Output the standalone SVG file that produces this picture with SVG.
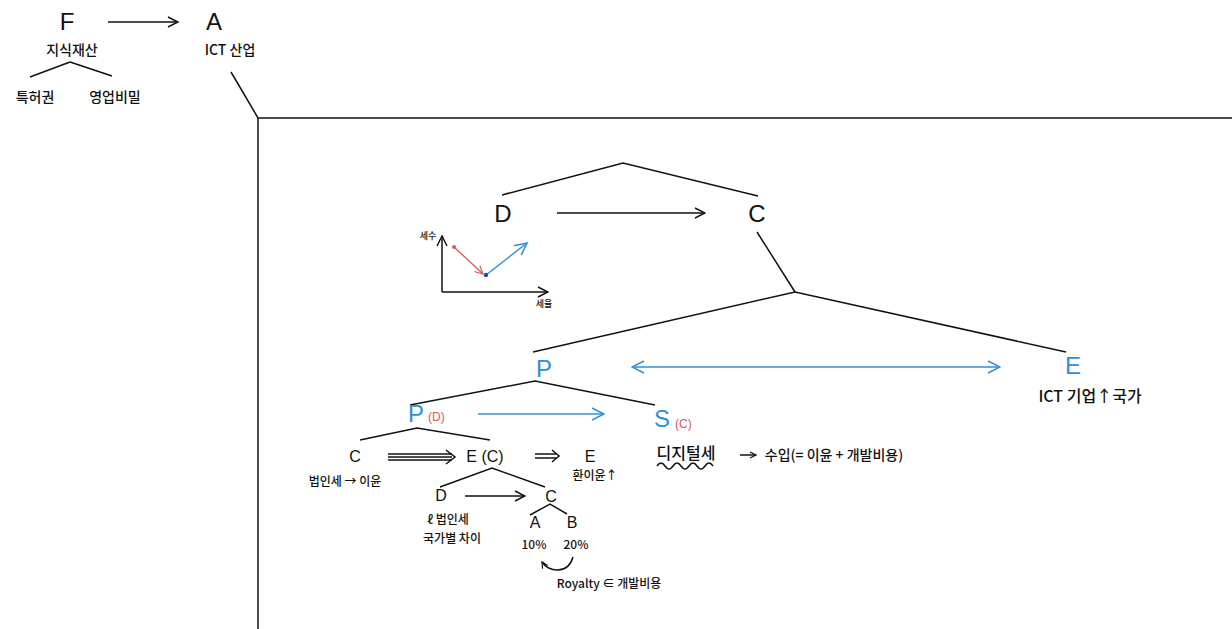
<svg xmlns="http://www.w3.org/2000/svg" width="1232" height="629" viewBox="0 0 1232 629">
<defs>
<marker id="chev" viewBox="0 0 12 12" refX="11" refY="6" markerWidth="12" markerHeight="12" markerUnits="userSpaceOnUse" orient="auto-start-reverse">
<path d="M1,1 L11,6 L1,11" fill="none" stroke="#111" stroke-width="1.4"/>
</marker>
<marker id="chevB" viewBox="0 0 14 14" refX="13" refY="7" markerWidth="14" markerHeight="14" markerUnits="userSpaceOnUse" orient="auto-start-reverse">
<path d="M1,1 L13,7 L1,13" fill="none" stroke="#2f8fd6" stroke-width="1.5"/>
</marker>
<marker id="chevR" viewBox="0 0 10 10" refX="9" refY="5" markerWidth="10" markerHeight="10" markerUnits="userSpaceOnUse" orient="auto">
<path d="M1,1 L9,5 L1,9" fill="none" stroke="#d9575a" stroke-width="1.2"/>
</marker>
<marker id="chevS" viewBox="0 0 8 8" refX="7" refY="4" markerWidth="8" markerHeight="8" markerUnits="userSpaceOnUse" orient="auto">
<path d="M1,1 L7,4 L1,7" fill="none" stroke="#111" stroke-width="1.2"/>
</marker>
</defs>
<style>
.t{font-family:"Noto Sans CJK KR","Liberation Sans",sans-serif;fill:#111;text-anchor:middle;font-weight:500}
.big{font-family:"Liberation Sans","Noto Sans CJK KR",sans-serif;font-size:24px;fill:#111;text-anchor:middle}
.mid{font-family:"Liberation Sans","Noto Sans CJK KR",sans-serif;font-size:16px;fill:#111;text-anchor:middle}
.blue{fill:#2f8fd6}
.red{fill:#d9575a;font-family:"Liberation Sans",sans-serif;text-anchor:start}
.k{font-size:14px}
.ln{stroke:#111;stroke-width:1.5;fill:none}
.lnb{stroke:#2f8fd6;stroke-width:1.5;fill:none}
</style>
<rect width="1232" height="629" fill="#fff"/>

<g id="connectors">
<line class="ln" x1="108" y1="22" x2="178" y2="22" marker-end="url(#chev)"/>
<line class="ln" x1="70" y1="62" x2="30" y2="77"/>
<line class="ln" x1="70" y1="62" x2="112" y2="76"/>
<line class="ln" x1="231" y1="72" x2="258" y2="118"/>
<path class="ln" d="M258,629 L258,118 L1232,118"/>
<path class="ln" d="M502,195 L623,163 L758,196"/>
<line class="ln" x1="557" y1="213" x2="705" y2="213" marker-end="url(#chev)"/>
<path class="ln" d="M757,232 L795,292"/>
<path class="ln" d="M533,352 L795,292 L1066,352"/>
<line class="lnb" x1="632" y1="367" x2="1000" y2="367" marker-start="url(#chevB)" marker-end="url(#chevB)"/>
<path class="ln" d="M410,405 L535,381 L655,405"/>
<line class="lnb" x1="478" y1="414" x2="604" y2="414" marker-end="url(#chevB)"/>
<path class="ln" d="M360,440 L417,428 L490,440"/>
<g class="ln">
<line x1="388" y1="454" x2="452" y2="454"/>
<line x1="388" y1="457" x2="452" y2="457"/>
<line x1="388" y1="460" x2="452" y2="460"/>
<path d="M446,450 L455,457 L446,464"/>
</g>
<g class="ln">
<line x1="535" y1="454" x2="556" y2="454"/>
<line x1="535" y1="458" x2="556" y2="458"/>
<path d="M552,450 L559,456 L552,462"/>
</g>
<path class="ln" d="M440,487 L492,468 L545,487"/>
<line class="ln" x1="465" y1="496" x2="525" y2="496" marker-end="url(#chev)"/>
<path class="ln" d="M530,515 L550,504 L567,514"/>
<path class="ln" d="M573,557 C568,575 548,572 542,562" marker-end="url(#chevS)"/>
<path class="ln" d="M657,466 q4,-6 8,0 t8,0 t8,0 t8,0 t8,0 t8,0 t8,0"/>
<line class="ln" x1="740" y1="455" x2="756" y2="455" marker-end="url(#chevS)"/>
</g>

<g id="graph">
<line class="ln" x1="442" y1="292" x2="442" y2="236" marker-end="url(#chev)"/>
<line class="ln" x1="442" y1="292" x2="548" y2="292" marker-end="url(#chev)"/>
<line x1="454" y1="247" x2="483" y2="274" stroke="#d9575a" stroke-width="1.3" marker-end="url(#chevR)"/>
<line x1="486" y1="275" x2="527" y2="243" stroke="#2f8fd6" stroke-width="1.4" marker-end="url(#chevB)"/>
<circle cx="454" cy="247" r="2" fill="#d9575a"/>
<circle cx="486" cy="275" r="2.2" fill="#1d4fb8"/>
<text class="t" x="428" y="239" font-size="9">세수</text>
<text class="t" x="544" y="307" font-size="9">세율</text>
</g>

<g id="node-F"><text class="big" x="67" y="30">F</text><text class="t k" x="72" y="55">지식재산</text></g>
<g id="node-patent"><text class="t k" x="35" y="102">특허권</text></g>
<g id="node-secret"><text class="t k" x="115" y="102">영업비밀</text></g>
<g id="node-A"><text class="big" x="214" y="30">A</text><text class="t k" x="230" y="55">ICT 산업</text></g>
<g id="node-D"><text class="big" x="503" y="222">D</text></g>
<g id="node-C"><text class="big" x="757" y="222">C</text></g>
<g id="node-P"><text class="big blue" x="544" y="377" font-size="32">P</text></g>
<g id="node-E"><text class="big blue" x="1073" y="374">E</text><text class="t" x="1090" y="402" font-size="16">ICT 기업↑국가</text></g>
<g id="node-PD"><text class="big blue" x="416" y="422" font-size="26">P</text><text class="red" x="428" y="421" font-size="12">(D)</text></g>
<g id="node-SC"><text class="big blue" x="662" y="427">S</text><text class="red" x="675" y="428" font-size="12">(C)</text></g>
<g id="node-digital"><text class="t" x="686" y="459" font-size="16">디지털세</text><text class="t" x="834" y="460" font-size="14">수입(= 이윤 + 개발비용)</text></g>
<g id="node-C2"><text class="mid" x="355" y="462">C</text><text class="t" x="345" y="486" font-size="12">법인세 → 이윤</text></g>
<g id="node-EC"><text class="mid" x="485" y="462">E (C)</text></g>
<g id="node-E2"><text class="mid" x="590" y="462">E</text><text class="t" x="595" y="480" font-size="12">환이윤↑</text></g>
<g id="node-D2"><text class="mid" x="441" y="501">D</text><text class="t" x="448" y="524" font-size="12">ℓ 법인세</text><text class="t" x="452" y="543" font-size="12">국가별 차이</text></g>
<g id="node-C3"><text class="mid" x="551" y="502">C</text></g>
<g id="node-A2"><text class="mid" x="535" y="528">A</text><text class="t" x="534" y="549" font-size="12">10%</text></g>
<g id="node-B2"><text class="mid" x="572" y="528">B</text><text class="t" x="576" y="549" font-size="12">20%</text></g>
<g id="node-royalty"><text class="t" x="609" y="588" font-size="12">Royalty ∈ 개발비용</text></g>
</svg>
